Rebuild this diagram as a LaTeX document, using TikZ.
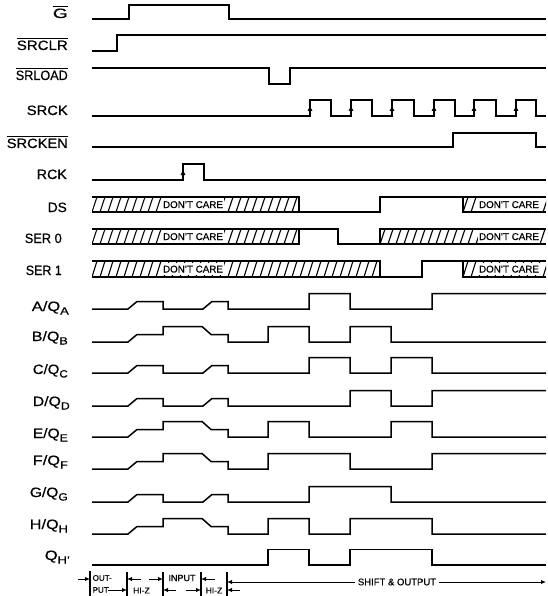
\documentclass[tikz,border=0pt]{standalone}
\usepackage{fontspec}
\setmainfont[FakeBold=0.5]{Liberation Sans}
\usepackage{graphicx}
\usetikzlibrary{arrows.meta}
\newsavebox\lblbox
\newcommand\fitw[2]{\sbox\lblbox{#2}\pgfmathsetmacro\fxs{#1/\the\wd\lblbox}\scalebox{\fxs}[1]{\usebox\lblbox}}
\newcommand\ovl[1]{\vbox{\hrule height 1pt\kern 1.8pt\hbox{#1}}}
\newcommand\subs[1]{\raisebox{-3.5pt}{\fontsize{10.5}{11}\selectfont #1}}
\newcommand\hatchband[4]{%
  \begin{scope}
    \clip (#1,#3) rectangle (#2,#4);
    \foreach \i in {0,...,45} \draw[hat] ({#1+\i*8},#4) -- ({#1+\i*8+5},#3);
  \end{scope}}
\begin{document}
\begin{tikzpicture}[x=1pt,y=-1pt,
  sig/.style={line width=1.5pt},
  hat/.style={line width=1.1pt},
  clk/.style={line width=1.5pt,-{Triangle[length=5pt,width=4.5pt]}},
  lbl/.style={anchor=base east,inner sep=0pt,font=\fontsize{13.5}{14}\selectfont},
  dc/.style={fill=white,inner xsep=1.5pt,inner ysep=0pt,minimum height=12.5pt,text height=7pt,text depth=0pt,font=\fontsize{9.8}{10}\selectfont},
  dimarrow/.style={line width=1pt,-{Latex[length=5pt,width=4.5pt]}},
  barline/.style={line width=1.2pt},
  anno/.style={inner sep=0pt,font=\fontsize{8.5}{9}\selectfont}]
\useasboundingbox (0,0) rectangle (547,596);
\fill[white] (0,0) rectangle (547,596);

% ---- labels ----
\node[lbl] (lG) at (68,18) {\fitw{15}{\ovl{G}}};
\node[lbl] (lSRCLR) at (68,50) {\fitw{51}{\ovl{SRCLR}}};
\node[lbl] (lSRLOAD) at (68,80) {\fitw{52}{\ovl{SRLOAD}}};
\node[lbl] (lSRCK) at (68,115) {\fitw{41}{SRCK}};
\node[lbl] (lSRCKEN) at (68,148) {\fitw{61}{\ovl{SRCKEN}}};
\node[lbl] (lRCK) at (67,179) {\fitw{30}{RCK}};
\node[lbl] (lDS) at (67,212) {\fitw{19}{DS}};
\node[lbl] (lSER0) at (62,243) {\fitw{37}{SER 0}};
\node[lbl] (lSER1) at (62,275) {\fitw{36}{SER 1}};
\node[lbl] (lA) at (69,311) {\fitw{37}{A/Q\subs{A}}};
\node[lbl] (lB) at (68,341) {\fitw{36}{B/Q\subs{B}}};
\node[lbl] (lC) at (68,374) {\fitw{35}{C/Q\subs{C}}};
\node[lbl] (lD) at (70,406) {\fitw{37}{D/Q\subs{D}}};
\node[lbl] (lE) at (68,438) {\fitw{35}{E/Q\subs{E}}};
\node[lbl] (lF) at (68,465) {\fitw{35}{F/Q\subs{F}}};
\node[lbl] (lGG) at (68,497) {\fitw{38}{G/Q\subs{G}}};
\node[lbl] (lH) at (68,529) {\fitw{38}{H/Q\subs{H}}};
\node[lbl] (lQH) at (70,560) {\fitw{25}{Q\subs{H'}}};

% ---- control signals ----
\draw[sig] (92,19) -- (129,19) -- (129,5) -- (229,5) -- (229,19) -- (546,19);
\draw[sig] (92,51) -- (117,51) -- (117,35) -- (546,35);
\draw[sig] (92,68) -- (269,68) -- (269,84) -- (290,84) -- (290,68) -- (546,68);
\draw[sig] (92,116) -- (310,116) -- (310,100) -- (331,100) -- (331,116)
  -- (351,116) -- (351,100) -- (372,100) -- (372,116)
  -- (392,116) -- (392,100) -- (414,100) -- (414,116)
  -- (434,116) -- (434,100) -- (455,100) -- (455,116)
  -- (474,116) -- (474,100) -- (496,100) -- (496,116)
  -- (516,116) -- (516,100) -- (536,100) -- (536,116) -- (546,116);
\foreach \x in {310,351,392,434,474,516} \draw[clk] (\x,116) -- (\x,106);
\draw[sig] (92,147) -- (453,147) -- (453,133) -- (536,133) -- (536,147) -- (546,147);
\draw[sig] (92,180) -- (183,180) -- (183,164) -- (204,164) -- (204,180) -- (546,180);
\draw[clk] (183,180) -- (183,170);

% ---- DS ----
\hatchband{92}{299}{197}{212}
\hatchband{463}{546}{197}{212}
\node[dc] (dcDS1) at (193,204.5) {DON'T CARE};
\node[dc] (dcDS2) at (509,204.5) {DON'T CARE};
\draw[sig] (92,197) -- (299,197) -- (299,212);
\draw[sig] (92,212) -- (380,212) -- (380,197) -- (546,197);
\draw[sig] (463,197) -- (463,212) -- (546,212);

% ---- SER 0 ----
\hatchband{92}{299}{229}{244}
\hatchband{380}{546}{229}{244}
\node[dc] (dcS01) at (193,236.5) {DON'T CARE};
\node[dc] (dcS02) at (509,236.5) {DON'T CARE};
\draw[sig] (92,244) -- (299,244) -- (299,229);
\draw[sig] (92,229) -- (338,229) -- (338,244) -- (546,244);
\draw[sig] (380,244) -- (380,229) -- (546,229);

% ---- SER 1 ----
\hatchband{92}{380}{261}{277}
\hatchband{463}{546}{261}{277}
\node[dc] (dcS11) at (193,269) {DON'T CARE};
\node[dc] (dcS12) at (509,269) {DON'T CARE};
\draw[sig] (92,261) -- (380,261) -- (380,277);
\draw[sig] (92,277) -- (422,277) -- (422,261) -- (546,261);
\draw[sig] (463,261) -- (463,277) -- (546,277);

% ---- data rows ----
% A
\begin{scope}[shift={(0,309)}]
\draw[sig] (92,0) -- (128,0) -- (137,-7.5) -- (163,-7.5) -- (163,0) -- (203,0) -- (212,-7.5) -- (228,-7.5) -- (228,0)
 -- (309,0) -- (309,-15.5) -- (350,-15.5) -- (350,0) -- (432,0) -- (432,-15.5) -- (546,-15.5);
\end{scope}
% B
\begin{scope}[shift={(0,342)}]
\draw[sig] (92,0) -- (128,0) -- (137,-7.5) -- (163,-7.5) -- (163,-15.5) -- (202,-15.5) -- (211,-7.5) -- (228,-7.5) -- (228,0)
 -- (268,0) -- (268,-15.5) -- (309,-15.5) -- (309,0) -- (350,0) -- (350,-15.5) -- (391,-15.5) -- (391,0) -- (546,0);
\end{scope}
% C
\begin{scope}[shift={(0,373)}]
\draw[sig] (92,0) -- (128,0) -- (137,-7.5) -- (163,-7.5) -- (163,0) -- (203,0) -- (212,-7.5) -- (228,-7.5) -- (228,0)
 -- (309,0) -- (309,-15.5) -- (350,-15.5) -- (350,0) -- (391,0) -- (391,-15.5) -- (432,-15.5) -- (432,0) -- (546,0);
\end{scope}
% D
\begin{scope}[shift={(0,406)}]
\draw[sig] (92,0) -- (128,0) -- (137,-7.5) -- (163,-7.5) -- (163,0) -- (203,0) -- (212,-7.5) -- (228,-7.5) -- (228,0)
 -- (350,0) -- (350,-15.5) -- (391,-15.5) -- (391,0) -- (432,0) -- (432,-15.5) -- (546,-15.5);
\end{scope}
% E
\begin{scope}[shift={(0,437)}]
\draw[sig] (92,0) -- (128,0) -- (137,-7.5) -- (163,-7.5) -- (163,-15.5) -- (202,-15.5) -- (211,-7.5) -- (228,-7.5) -- (228,0)
 -- (268,0) -- (268,-15.5) -- (309,-15.5) -- (309,0) -- (391,0) -- (391,-15.5) -- (432,-15.5) -- (432,0) -- (546,0);
\end{scope}
% F
\begin{scope}[shift={(0,469)}]
\draw[sig] (92,0) -- (128,0) -- (137,-7.5) -- (163,-7.5) -- (163,-15.5) -- (202,-15.5) -- (211,-7.5) -- (228,-7.5) -- (228,0)
 -- (268,0) -- (268,-15.5) -- (350,-15.5) -- (350,0) -- (432,0) -- (432,-15.5) -- (546,-15.5);
\end{scope}
% G
\begin{scope}[shift={(0,502)}]
\draw[sig] (92,0) -- (128,0) -- (137,-7.5) -- (163,-7.5) -- (163,0) -- (203,0) -- (212,-7.5) -- (228,-7.5) -- (228,0)
 -- (309,0) -- (309,-15.5) -- (391,-15.5) -- (391,0) -- (546,0);
\end{scope}
% H
\begin{scope}[shift={(0,534)}]
\draw[sig] (92,0) -- (128,0) -- (137,-7.5) -- (163,-7.5) -- (163,-15.5) -- (202,-15.5) -- (211,-7.5) -- (228,-7.5) -- (228,0)
 -- (268,0) -- (268,-15.5) -- (309,-15.5) -- (309,0) -- (350,0) -- (350,-15.5) -- (432,-15.5) -- (432,0) -- (546,0);
\end{scope}
% QH'
\begin{scope}[shift={(0,565)}]
\draw[sig] (92,0) -- (268,0) -- (268,-15.5) -- (309,-15.5) -- (309,0) -- (350,0) -- (350,-15.5) -- (432,-15.5) -- (432,0) -- (546,0);
\end{scope}

% ---- bottom phase annotations ----
\coordinate (b1t) at (90,571); \coordinate (b1b) at (90,596);
\coordinate (b2t) at (127,572); \coordinate (b2b) at (127,596);
\coordinate (b3t) at (163,572); \coordinate (b3b) at (163,596);
\coordinate (b4t) at (201,572); \coordinate (b4b) at (201,596);
\coordinate (b5t) at (227,572); \coordinate (b5b) at (227,596);
\draw[barline] (b1t) -- (b1b);
\draw[barline] (b2t) -- (b2b);
\draw[barline] (b3t) -- (b3b);
\draw[barline] (b4t) -- (b4b);
\draw[barline] (b5t) -- (b5b);

\draw[dimarrow] (78,579) -- (90,579);
\draw[dimarrow] (141,579) -- (127,579);
\draw[dimarrow] (149,579) -- (163,579);
\draw[dimarrow] (215,579) -- (201,579);
\draw[dimarrow] (108,590) -- (127,590);
\draw[dimarrow] (176,590) -- (163,590);
\draw[dimarrow] (186,590) -- (201,590);
\draw[dimarrow] (240,590) -- (227,590);
\draw[line width=1pt,{Latex[length=5pt,width=4.5pt]}-{Latex[length=5pt,width=4.5pt]}] (227,582) -- (546,582);

\node[anno,anchor=west,font=\fontsize{8}{8}\selectfont] (tOut) at (92.5,578) {OUT-};
\node[anno,anchor=west,font=\fontsize{8}{8}\selectfont] (tPut) at (92.5,590) {PUT};
\node[anno] (tHiz1) at (141.5,590.5) {HI-Z};
\node[anno,font=\fontsize{9}{9}\selectfont] (tIn) at (182,578) {INPUT};
\node[anno] (tHiz2) at (214,590.5) {HI-Z};
\node[anno,fill=white,inner xsep=3pt,inner ysep=1pt,font=\fontsize{9.5}{10}\selectfont] (tShift) at (397,582) {SHIFT \& OUTPUT};
\end{tikzpicture}
\end{document}
